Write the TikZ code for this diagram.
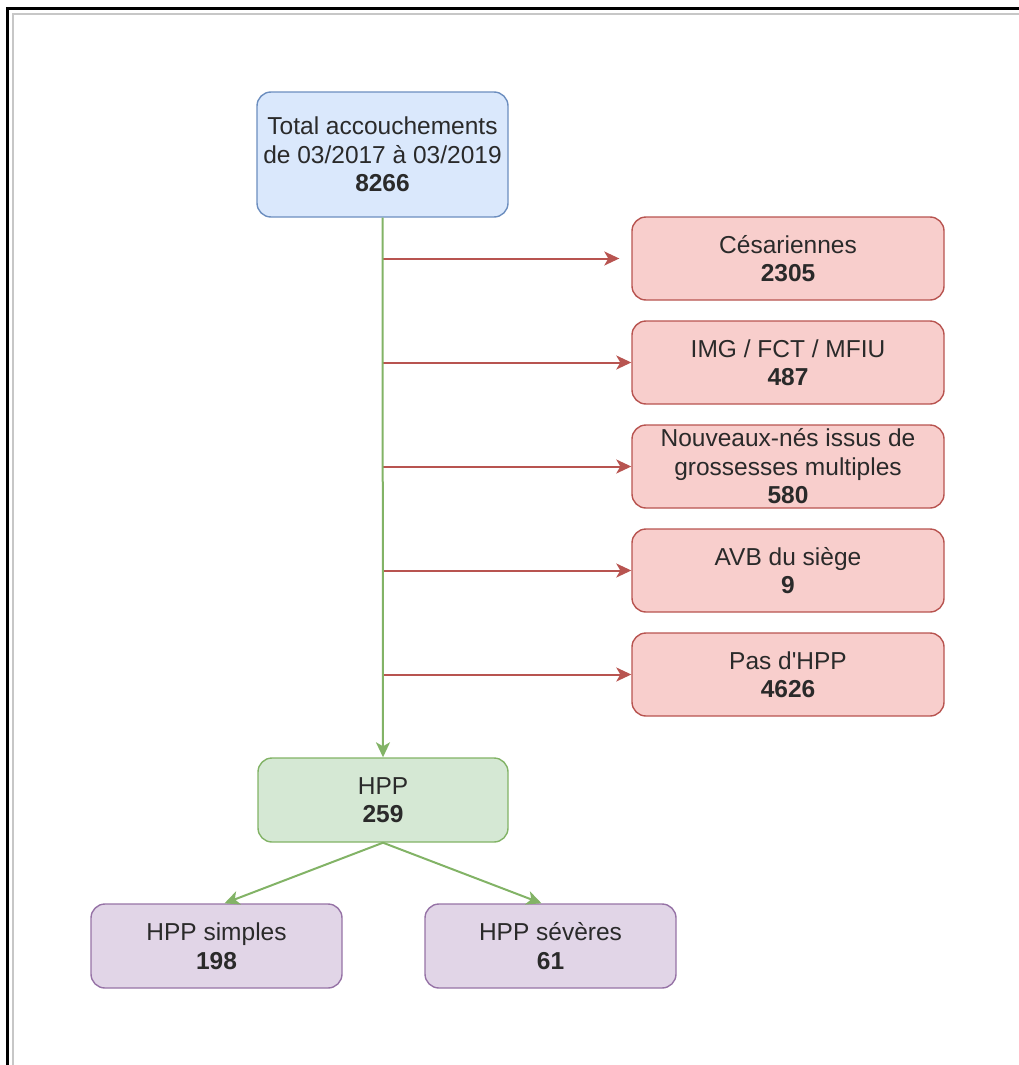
\documentclass[tikz,border=0pt]{standalone}
\usepackage{fontspec}
\setmainfont{Liberation Sans}[Ligatures=TeXOff]
\usetikzlibrary{arrows.meta,calc}
\definecolor{bluefill}{HTML}{DAE8FC}
\definecolor{bluedraw}{HTML}{6C8EBF}
\definecolor{redfill}{HTML}{F8CECC}
\definecolor{reddraw}{HTML}{B85450}
\definecolor{greenfill}{HTML}{D5E8D4}
\definecolor{greendraw}{HTML}{82B366}
\definecolor{purplefill}{HTML}{E1D5E7}
\definecolor{purpledraw}{HTML}{9673A6}
\definecolor{txt}{HTML}{2A2A2A}
\tikzset{
  box/.style={rectangle, rounded corners=14pt, line width=1.4pt, align=center,
    text=txt, font=\fontsize{24.5}{28.5}\selectfont, inner sep=0pt},
  bluebox/.style={box, fill=bluefill, draw=bluedraw, minimum width=251pt, minimum height=125pt},
  redbox/.style={box, fill=redfill, draw=reddraw, minimum width=312pt, minimum height=83pt},
  greenbox/.style={box, fill=greenfill, draw=greendraw, minimum width=250pt, minimum height=84pt},
  purplebox/.style={box, fill=purplefill, draw=purpledraw, minimum width=251pt, minimum height=84pt},
  tip/.style={-{Stealth[length=15pt,width=14pt,inset=4pt]}},
  greenarrow/.style={tip, draw=greendraw, fill=greendraw, line width=2pt},
  redarrow/.style={tip, draw=reddraw, fill=reddraw, line width=2pt},
}
\begin{document}
\begin{tikzpicture}[x=1pt,y=-1pt]
\useasboundingbox (0,0) rectangle (1019,1065);
% frame
\draw[black, line width=2.2pt] (7.5,1065) -- (7.5,8.5) -- (1019,8.5);
\draw[black!22, line width=2pt] (12.5,1065) -- (12.5,14) -- (1019,14);
% nodes
\node[bluebox] (total) at (382.5,154.5) {Total accouchements\\de 03/2017 à 03/2019\\\textbf{8266}};
\node[redbox] (ces) at (788,258.5) {Césariennes\\\textbf{2305}};
\node[redbox] (img) at (788,362.5) {IMG / FCT / MFIU\\\textbf{487}};
\node[redbox] (nn) at (788,466.5) {Nouveaux-nés issus de\\grossesses multiples\\\textbf{580}};
\node[redbox] (avb) at (788,570.5) {AVB du siège\\\textbf{9}};
\node[redbox] (pas) at (788,674.5) {Pas d'HPP\\\textbf{4626}};
\node[greenbox] (hpp) at (383,800) {HPP\\\textbf{259}};
\node[purplebox] (simp) at (216.5,946) {HPP simples\\\textbf{198}};
\node[purplebox] (sev) at (550.5,946) {HPP sévères\\\textbf{61}};
% branches
\draw[redarrow, shorten >=12pt] (total.south |- ces.west) -- (ces.west);
\foreach \n in {img,nn,avb,pas}
  \draw[redarrow] (total.south |- \n.west) -- (\n.west);
% main vertical
\draw[greenarrow] (total.south) -- (hpp.north);
% bottom
\draw[greenarrow] (hpp.south) -- ($(simp.north)+(8,0)$);
\draw[greenarrow] (hpp.south) -- ($(sev.north)+(-9,0)$);
\end{tikzpicture}
\end{document}
